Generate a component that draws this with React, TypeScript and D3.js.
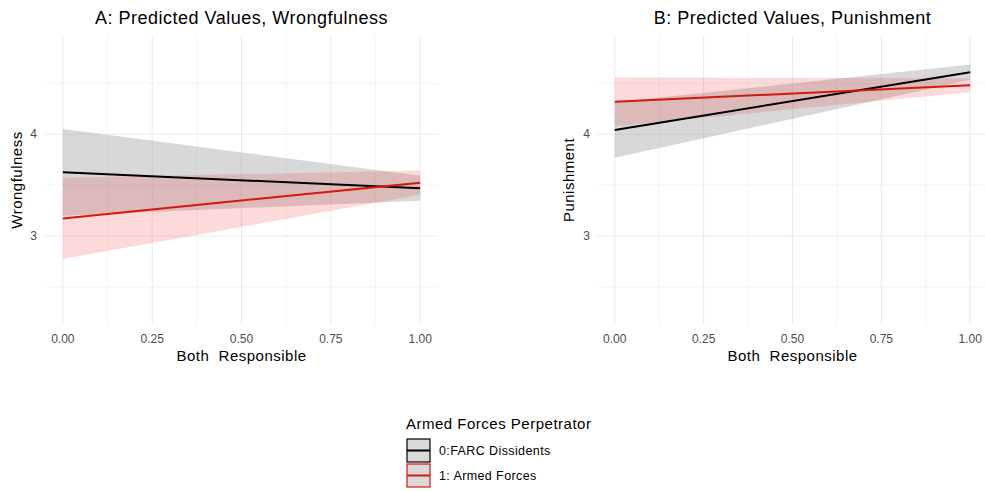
import React, { useEffect } from 'react';
import * as d3 from 'd3';

// Predicted values at Both Responsible = 0 and 1
const xValues = [0, 1];

// Panel A: Wrongfulness
const wrongFarcFit = [3.626, 3.469];
const wrongFarcLow = [3.2, 3.346];
const wrongFarcHigh = [4.052, 3.592];
const wrongArmedFit = [3.173, 3.524];
const wrongArmedLow = [2.774, 3.405];
const wrongArmedHigh = [3.573, 3.643];

// Panel B: Punishment
const punFarcFit = [4.042, 4.61];
const punFarcLow = [3.77, 4.535];
const punFarcHigh = [4.314, 4.685];
const punArmedFit = [4.32, 4.482];
const punArmedLow = [4.08, 4.414];
const punArmedHigh = [4.56, 4.55];

const xTicks = [0, 0.25, 0.5, 0.75, 1];
const xMinor = [0.125, 0.375, 0.625, 0.875];
const yTicks = [3, 4];
const yMinor = [2.5, 3.5, 4.5];

const legendTitle = 'Armed Forces Perpetrator';
const legendLabels = ['0:FARC Dissidents', '1: Armed Forces'];

const FONT = '"Liberation Sans", Arial, Helvetica, sans-serif';
const BLACK = '#000000';
const RED = '#d11a0a';

type Series = { fit: number[]; low: number[]; high: number[]; line: string; fill: string; alpha: number };

const Panel = ({ left, right, title, yLabel, series, yLabelX, tickX }: {
  left: number; right: number; title: string; yLabel: string; series: Series[]; yLabelX: number; tickX: number;
}) => {
  const top = 35;
  const bottom = 325;
  const x = d3.scaleLinear().domain([-0.05, 1.05]).range([left, right]);
  const y = d3.scaleLinear().domain([2.125, 4.976]).range([bottom, top]);
  const pts = xValues.map((v, i) => i);
  const area = (s: Series) =>
    d3.area<number>().x(i => x(xValues[i])).y0(i => y(s.low[i])).y1(i => y(s.high[i]))(pts) || '';
  const line = (s: Series) =>
    d3.line<number>().x(i => x(xValues[i])).y(i => y(s.fit[i]))(pts) || '';
  const cx = (x(0) + x(1)) / 2;
  return (
    <g>
      {xMinor.map(t => (
        <line key={'xm' + t} x1={x(t)} x2={x(t)} y1={top} y2={bottom} stroke="#ebebeb" strokeWidth={0.6} />
      ))}
      {yMinor.map(t => (
        <line key={'ym' + t} x1={left} x2={right} y1={y(t)} y2={y(t)} stroke="#ebebeb" strokeWidth={0.6} />
      ))}
      {xTicks.map(t => (
        <line key={'x' + t} x1={x(t)} x2={x(t)} y1={top} y2={bottom} stroke="#ebebeb" strokeWidth={1.1} />
      ))}
      {yTicks.map(t => (
        <line key={'y' + t} x1={left} x2={right} y1={y(t)} y2={y(t)} stroke="#ebebeb" strokeWidth={1.1} />
      ))}
      {series.map((s, i) => (
        <path key={'a' + i} d={area(s)} fill={s.fill} fillOpacity={s.alpha} />
      ))}
      {series.map((s, i) => (
        <path key={'l' + i} d={line(s)} fill="none" stroke={s.line} strokeWidth={2} />
      ))}
      {xTicks.map(t => (
        <text key={'xt' + t} x={x(t)} y={343} textAnchor="middle" fontSize={12} fill="#4d4d4d" fontFamily={FONT}>
          {t.toFixed(2)}
        </text>
      ))}
      {yTicks.map(t => (
        <text key={'yt' + t} x={tickX} y={y(t) + 4} textAnchor="end" fontSize={12} fill="#4d4d4d" fontFamily={FONT}>
          {t}
        </text>
      ))}
      <text x={cx} y={361} textAnchor="middle" fontSize={15} letterSpacing={0.5} fill="#000" fontFamily={FONT}
        xmlSpace="preserve">
        {'Both  Responsible'}
      </text>
      <text transform={`translate(${yLabelX},${(top + bottom) / 2}) rotate(-90)`} textAnchor="middle" fontSize={15}
        letterSpacing={0.5} fill="#000" fontFamily={FONT}>
        {yLabel}
      </text>
      <text x={cx} y={24} textAnchor="middle" fontSize={18} letterSpacing={0.5} fill="#000" fontFamily={FONT}>
        {title}
      </text>
    </g>
  );
};

const App = () => {
  useEffect(() => {
    document.body.style.margin = '0';
  }, []);

  const panelA: Series[] = [
    { fit: wrongFarcFit, low: wrongFarcLow, high: wrongFarcHigh, line: BLACK, fill: '#999999', alpha: 0.38 },
    { fit: wrongArmedFit, low: wrongArmedLow, high: wrongArmedHigh, line: RED, fill: '#f03030', alpha: 0.18 },
  ];
  const panelB: Series[] = [
    { fit: punFarcFit, low: punFarcLow, high: punFarcHigh, line: BLACK, fill: '#999999', alpha: 0.38 },
    { fit: punArmedFit, low: punArmedLow, high: punArmedHigh, line: RED, fill: '#f03030', alpha: 0.18 },
  ];

  const keyColors = [BLACK, RED];

  return (
    <svg width={985} height={491} style={{ display: 'block', background: '#fff' }}>
      <Panel left={45} right={438} title="A: Predicted Values, Wrongfulness" yLabel="Wrongfulness"
        series={panelA} yLabelX={22} tickX={37} />
      <Panel left={597} right={988} title="B: Predicted Values, Punishment" yLabel="Punishment"
        series={panelB} yLabelX={574} tickX={590} />
      <g>
        <text x={406} y={429} fontSize={15} letterSpacing={0.5} fill="#000" fontFamily={FONT}>{legendTitle}</text>
        {legendLabels.map((lab, i) => {
          const ky = 439 + i * 25;
          return (
            <g key={lab}>
              <rect x={407} y={ky} width={23} height={23} fill="#d9d9d9" stroke={keyColors[i]} strokeWidth={1.2} />
              <line x1={407} x2={430} y1={ky + 11.5} y2={ky + 11.5} stroke={keyColors[i]} strokeWidth={2} />
              <text x={439} y={ky + 16} fontSize={12.5} letterSpacing={0.4} fill="#000" fontFamily={FONT}>{lab}</text>
            </g>
          );
        })}
      </g>
    </svg>
  );
};

export default App;
